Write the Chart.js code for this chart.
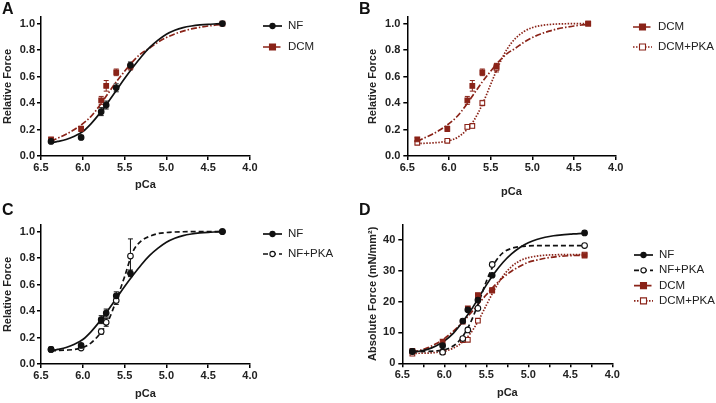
<!DOCTYPE html>
<html>
<head>
<meta charset="utf-8">
<script src="https://cdn.jsdelivr.net/npm/chart.js@4"></script>
<style>
  body { margin: 0; background: #fff; width: 716px; height: 403px; position: relative; overflow: hidden;
         font-family: 'Liberation Sans', Arial, sans-serif; }
  canvas { position: absolute; }
  .panel { position: absolute; font-weight: bold; font-size: 16px; color: #111; line-height: 16px; }
</style>
</head>
<body>
<canvas id="chartA" width="358" height="200" style="left:0;top:0"></canvas>
<canvas id="chartB" width="358" height="200" style="left:358px;top:0"></canvas>
<canvas id="chartC" width="358" height="203" style="left:0;top:200px"></canvas>
<canvas id="chartD" width="358" height="203" style="left:358px;top:200px"></canvas>
<div class="panel" style="left:2px;top:1px">A</div>
<div class="panel" style="left:359px;top:1px">B</div>
<div class="panel" style="left:2px;top:202px">C</div>
<div class="panel" style="left:359px;top:202px">D</div>
<script>
// measured pCa steps
var pCa = [6.38, 6.02, 5.78, 5.72, 5.6, 5.43, 4.33];

// relative force (mean, sem)
var relNF = [0.11, 0.14, 0.335, 0.385, 0.515, 0.685, 1.0];
var relNFerr = [0.01, 0.01, 0.03, 0.03, 0.03, 0.025, 0];
var relNFPKA = [0.11, 0.12, 0.245, 0.315, 0.48, 0.815, 1.0];
var relNFPKAerr = [0.01, 0.01, 0.02, 0.03, 0.03, 0.13, 0];
var relDCM = [0.125, 0.205, 0.42, 0.53, 0.632, 0.675, 1.0];
var relDCMerr = [0.015, 0.02, 0.03, 0.04, 0.025, 0.025, 0];
var relDCMPKA = [0.1, 0.115, 0.22, 0.227, 0.4, 0.665, 1.0];
var relDCMPKAerr = [0.01, 0.01, 0.015, 0.015, 0.02, 0.03, 0];

// absolute force, mN/mm2
var absNF = [3.9, 5.7, 13.7, 17.3, 20.5, 28.5, 42.2];
var absNFPKA = [3.8, 3.6, 8.0, 10.8, 17.8, 32.0, 38.1];
var absDCM = [4.0, 7.0, 13.5, 17.8, 22.1, 23.7, 34.9];
var absDCMPKA = [3.1, 3.6, 7.5, 7.6, 13.8, 23.5, 35.2];

// fitted curves
var fitPCa = [6.38, 6.3, 6.2, 6.1, 6.0, 5.9, 5.8, 5.7, 5.6, 5.5, 5.4, 5.3, 5.2, 5.1, 5.0, 4.9, 4.8, 4.7, 4.6, 4.5, 4.4, 4.33];
var fitRelNF = [0.1, 0.11, 0.125, 0.15, 0.185, 0.245, 0.32, 0.405, 0.495, 0.585, 0.67, 0.75, 0.82, 0.875, 0.92, 0.95, 0.97, 0.982, 0.99, 0.995, 0.998, 1.0];
var fitRelNFPKA = [0.1, 0.102, 0.105, 0.11, 0.125, 0.16, 0.225, 0.32, 0.48, 0.66, 0.85, 0.93, 0.965, 0.985, 0.993, 0.997, 0.999, 1.0, 1.0, 1.0, 1.0, 1.0];
var fitRelDCM = [0.11, 0.135, 0.165, 0.2, 0.245, 0.3, 0.38, 0.47, 0.56, 0.64, 0.715, 0.775, 0.815, 0.86, 0.895, 0.922, 0.943, 0.96, 0.972, 0.982, 0.99, 0.995];
var fitRelDCMPKA = [0.095, 0.096, 0.099, 0.104, 0.115, 0.14, 0.19, 0.27, 0.39, 0.54, 0.69, 0.81, 0.89, 0.94, 0.97, 0.985, 0.993, 0.997, 0.999, 1.0, 1.0, 1.0];
var fitAbsNF = [3.7, 3.9, 4.5, 5.6, 7.2, 9.5, 12.8, 16.5, 20.8, 25.3, 29.3, 32.7, 35.4, 37.5, 39.0, 40.1, 40.8, 41.3, 41.6, 41.8, 42.0, 42.1];
var fitAbsNFPKA = [3.8, 3.8, 3.85, 4.0, 4.4, 5.5, 8.0, 12.5, 19.0, 26.5, 32.5, 35.8, 37.2, 37.8, 38.0, 38.1, 38.1, 38.1, 38.1, 38.1, 38.1, 38.1];
var fitAbsDCM = [3.6, 4.1, 5.0, 6.3, 8.0, 10.2, 12.8, 15.8, 19.0, 22.2, 25.2, 27.8, 29.8, 31.4, 32.7, 33.4, 34.0, 34.4, 34.7, 34.85, 34.95, 35.0];
var fitAbsDCMPKA = [3.2, 3.25, 3.3, 3.5, 3.9, 4.8, 6.5, 9.3, 13.5, 18.8, 24.0, 28.3, 31.3, 33.2, 34.2, 34.7, 35.0, 35.1, 35.2, 35.2, 35.2, 35.2];

var black = '#111';
var red = '#8a2318';
var fam = "'Liberation Sans', Arial, sans-serif";

// line styles per group
var NF = { label: 'NF', color: black, dash: [], style: 'circle', filled: true };
var NFPKA = { label: 'NF+PKA', color: black, dash: [5, 3], style: 'circle', filled: false };
var DCM = { label: 'DCM', color: red, dash: [6, 2, 1.5, 2], style: 'rect', filled: true };
var DCMPKA = { label: 'DCM+PKA', color: red, dash: [1.5, 1.5], style: 'rect', filled: false };

function pts(xs, ys) {
  return xs.map(function (x, i) { return { x: x, y: ys[i] }; });
}

function curve(grp, ys) {
  return {
    data: pts(fitPCa, ys), showLine: true, borderColor: grp.color, borderWidth: 1.7,
    borderDash: grp.dash, pointRadius: 0, cubicInterpolationMode: 'monotone', fill: false, order: 2
  };
}

function marks(grp, ys, errs) {
  return {
    data: pts(pCa, ys), errors: errs, showLine: false, pointStyle: grp.style,
    pointRadius: grp.style === 'rect' ? 3.3 : 2.8,
    backgroundColor: grp.filled ? grp.color : '#fff', borderColor: grp.color, borderWidth: 1.1, order: 1
  };
}

var errorBars = {
  id: 'errorBars',
  beforeDatasetsDraw: function (chart) {
    var ctx = chart.ctx, ys = chart.scales.y;
    chart.data.datasets.forEach(function (ds, i) {
      if (!ds.errors) return;
      var meta = chart.getDatasetMeta(i);
      ctx.save();
      ctx.strokeStyle = ds.borderColor;
      ctx.lineWidth = 1;
      meta.data.forEach(function (pt, j) {
        var e = ds.errors[j];
        if (!e) return;
        var v = ds.data[j].y;
        var top = ys.getPixelForValue(v + e), bot = ys.getPixelForValue(v - e);
        ctx.beginPath();
        ctx.moveTo(pt.x, top); ctx.lineTo(pt.x, bot);
        ctx.moveTo(pt.x - 2.5, top); ctx.lineTo(pt.x + 2.5, top);
        ctx.moveTo(pt.x - 2.5, bot); ctx.lineTo(pt.x + 2.5, bot);
        ctx.stroke();
      });
      ctx.restore();
    });
  }
};

function sideLegend(items, x, y, gap) {
  return {
    id: 'sideLegend',
    afterDraw: function (chart) {
      var ctx = chart.ctx;
      items.forEach(function (it, k) {
        var yy = y + k * gap, cx = x + 9.5;
        ctx.save();
        ctx.strokeStyle = it.color;
        ctx.lineWidth = 1.7;
        ctx.setLineDash(it.dash);
        ctx.beginPath(); ctx.moveTo(x, yy); ctx.lineTo(x + 19, yy); ctx.stroke();
        ctx.setLineDash([]);
        ctx.lineWidth = 1.1;
        ctx.fillStyle = it.filled ? it.color : '#fff';
        ctx.beginPath();
        if (it.style === 'rect') ctx.rect(cx - 3, yy - 3, 6, 6);
        else ctx.arc(cx, yy, 2.6, 0, Math.PI * 2);
        ctx.fill(); ctx.stroke();
        ctx.fillStyle = '#222';
        ctx.font = '11.5px ' + fam;
        ctx.textBaseline = 'middle';
        ctx.fillText(it.label, x + 25, yy);
        ctx.restore();
      });
    }
  };
}

function axes(o) {
  var tickFont = { family: fam, size: 11, weight: 'bold' };
  var titleFont = { family: fam, size: 11, weight: 'bold' };
  return {
    x: {
      type: 'linear', reverse: true, min: 4, max: 6.5,
      ticks: {
        stepSize: o.xStep, autoSkip: false, maxRotation: 0, padding: 1, font: tickFont, color: '#222',
        callback: function (v) { return Math.abs(v * 2 - Math.round(v * 2)) < 1e-6 ? v.toFixed(1) : ''; }
      },
      grid: { drawOnChartArea: false, color: '#000', lineWidth: 1.5, tickLength: 4 },
      border: { color: '#000', width: 1.5 },
      title: { display: true, text: 'pCa', font: titleFont, color: '#222', padding: { top: 0, bottom: o.xTitlePad } },
      afterFit: function (s) { s.height = o.bottom; }
    },
    y: {
      type: 'linear', min: 0, max: o.yMax,
      ticks: { stepSize: o.yStep, includeBounds: false, padding: o.yTickPad, font: tickFont, color: '#222', callback: o.yFmt },
      grid: { drawOnChartArea: false, color: '#000', lineWidth: 1.5, tickLength: 4 },
      border: { color: '#000', width: 1.5 },
      title: { display: true, text: o.yTitle, font: titleFont, color: '#222', padding: { top: o.yTitlePad, bottom: 0 } },
      afterFit: function (s) { s.width = o.left; }
    }
  };
}

function rel(v) { return v.toFixed(1); }
function abs(v) { return String(v); }

function makeChart(id, datasets, o, legend) {
  return new Chart(document.getElementById(id), {
    type: 'scatter',
    data: { datasets: datasets },
    options: {
      responsive: false,
      animation: false,
      layout: { padding: { top: o.top, right: o.right, bottom: 0, left: 0 } },
      plugins: { legend: { display: false }, tooltip: { enabled: false } },
      scales: axes(o)
    },
    plugins: [errorBars, legend]
  });
}

makeChart('chartA', [
  marks(NF, relNF, relNFerr), marks(DCM, relDCM, relDCMerr),
  curve(NF, fitRelNF), curve(DCM, fitRelDCM)
], { top: 17, right: 108, left: 41, bottom: 44, xStep: 0.5, yMax: 1.05, yStep: 0.2, yFmt: rel,
     yTitle: 'Relative Force', yTitlePad: 1.7, yTickPad: 2, xTitlePad: 8 },
  sideLegend([NF, DCM], 263, 26, 21));

makeChart('chartB', [
  marks(DCM, relDCM, relDCMerr), marks(DCMPKA, relDCMPKA, relDCMPKAerr),
  curve(DCM, fitRelDCM), curve(DCMPKA, fitRelDCMPKA)
], { top: 17, right: 100.3, left: 49.3, bottom: 44, xStep: 0.5, yMax: 1.05, yStep: 0.2, yFmt: rel,
     yTitle: 'Relative Force', yTitlePad: 8.4, yTickPad: 3, xTitlePad: 1 },
  sideLegend([DCM, DCMPKA], 275, 27, 20));

makeChart('chartC', [
  marks(NF, relNF, relNFerr), marks(NFPKA, relNFPKA, relNFPKAerr),
  curve(NF, fitRelNF), curve(NFPKA, fitRelNFPKA)
], { top: 25, right: 108, left: 41, bottom: 39, xStep: 0.5, yMax: 1.05, yStep: 0.2, yFmt: rel,
     yTitle: 'Relative Force', yTitlePad: 1.7, yTickPad: 2, xTitlePad: 2 },
  sideLegend([NF, NFPKA], 263, 34, 20));

makeChart('chartD', [
  marks(NF, absNF), marks(NFPKA, absNFPKA), marks(DCM, absDCM), marks(DCMPKA, absDCMPKA),
  curve(NF, fitAbsNF), curve(NFPKA, fitAbsNFPKA), curve(DCM, fitAbsDCM), curve(DCMPKA, fitAbsDCMPKA)
], { top: 24.3, right: 103.7, left: 44.3, bottom: 39.7, xStep: 0.25, yMax: 45, yStep: 10, yFmt: abs,
     yTitle: 'Absolute Force (mN/mm²)', yTitlePad: 8.4, yTickPad: 3, xTitlePad: 3.7 },
  sideLegend([NF, NFPKA, DCM, DCMPKA], 276, 55, 15.3));
</script>
</body>
</html>
